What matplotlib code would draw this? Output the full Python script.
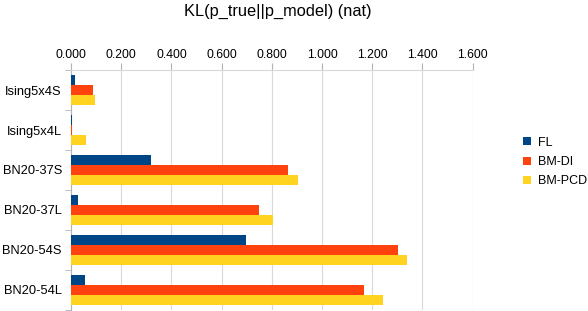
import matplotlib
matplotlib.use("Agg")
import matplotlib.pyplot as plt
import numpy as np

plt.rcParams['font.family'] = ['Liberation Sans', 'DejaVu Sans']

categories = ["Ising5x4S", "Ising5x4L", "BN20-37S", "BN20-37L", "BN20-54S", "BN20-54L"]
fl = [0.015, 0.005, 0.319, 0.027, 0.698, 0.057]
bm_di = [0.088, 0.002, 0.863, 0.750, 1.303, 1.167]
bm_pcd = [0.095, 0.060, 0.903, 0.806, 1.339, 1.243]
series_names = ["FL", "BM-DI", "BM-PCD"]
colors = ["#004586", "#ff420e", "#ffd320"]
xticks = [0.0, 0.2, 0.4, 0.6, 0.8, 1.0, 1.2, 1.4, 1.6]

fig = plt.figure(figsize=(5.88, 3.11), dpi=100)
ax = fig.add_axes([71/588, 1-310/311, (472.7-71)/588, 240/311])

n = len(categories)
y = np.arange(n)
h = 0.25
for i, (vals, name, c) in enumerate(zip([fl, bm_di, bm_pcd], series_names, colors)):
    ax.barh(y + (i - 1) * h, vals, height=h, color=c, label=name, zorder=3)

ax.set_ylim(n - 0.5, -0.5)
ax.set_xlim(0, 1.6)
ax.xaxis.tick_top()
ax.set_xticks(xticks)
ax.set_xticklabels([f"{v:.3f}" for v in xticks], fontsize=8.8)
ax.set_yticks(y)
ax.set_yticklabels(categories, fontsize=9.3)
ax.set_yticks(np.arange(n + 1) - 0.5, minor=True)
ax.tick_params(axis='y', which='major', length=0, pad=6.5)
ax.tick_params(axis='y', which='minor', length=4, color='#b3b3b3')
ax.tick_params(axis='x', which='major', length=5, color='#b3b3b3', pad=1.5)
ax.grid(axis='x', color='#d9d9d9', linewidth=0.8, zorder=0)
for s in ['right', 'bottom']:
    ax.spines[s].set_visible(False)
ax.spines['top'].set_color('#d9d9d9')
ax.spines['left'].set_color('#b3b3b3')

fig.text(278/588, 1-11/311, "KL(p_true||p_model) (nat)", ha='center', va='center', fontsize=11.8)

leg = fig.legend(loc='center left', bbox_to_anchor=(512/588, 1-162/311), frameon=False,
                 fontsize=9, handlelength=0.6, handleheight=0.6, handletextpad=0.55, labelspacing=0.6)

fig.savefig("out.png", dpi=100)
